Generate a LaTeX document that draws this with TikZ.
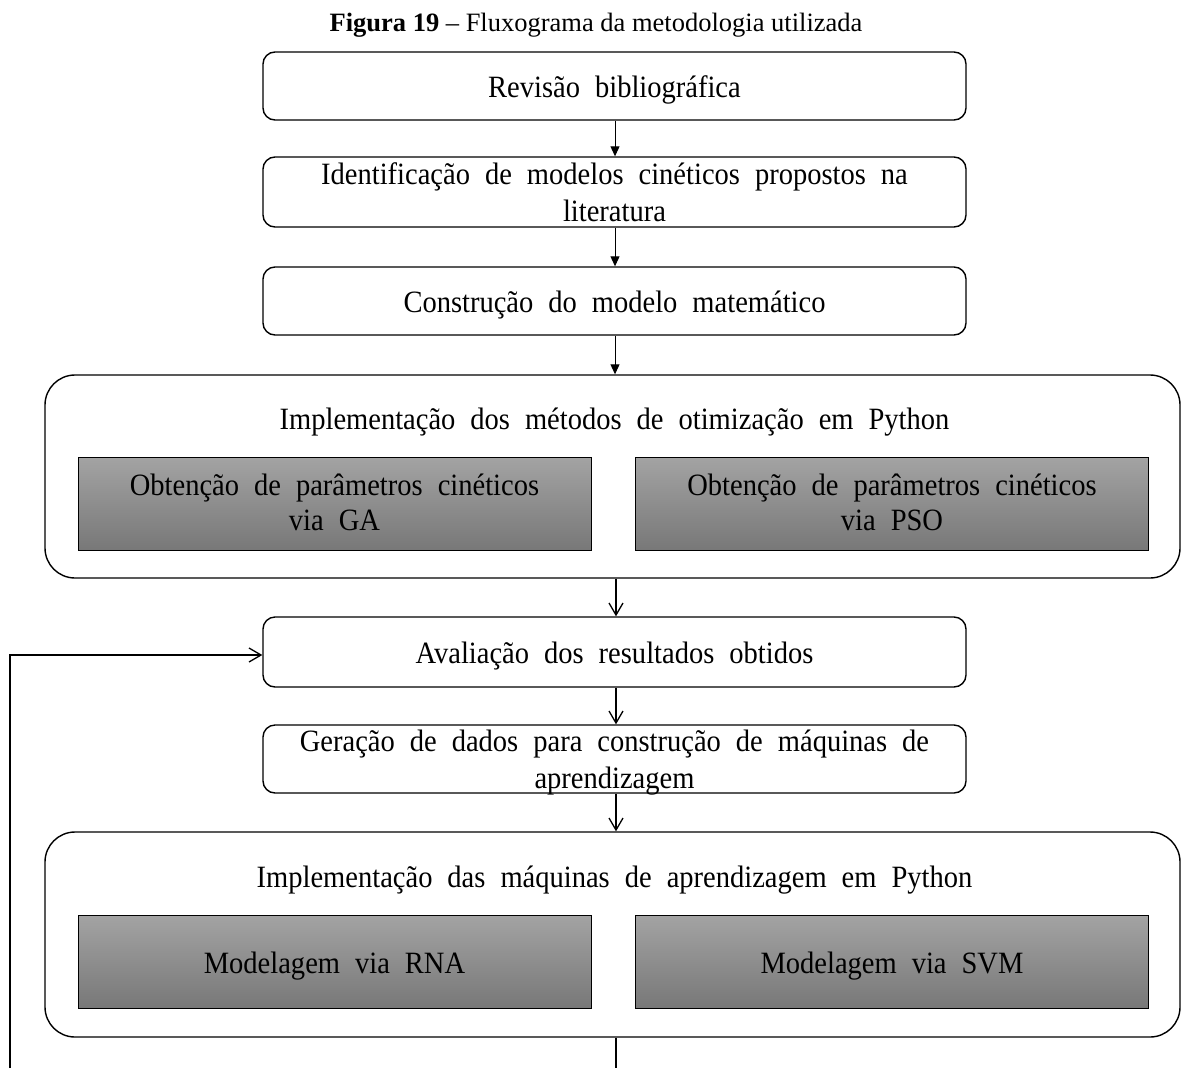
\documentclass[tikz,border=0pt]{standalone}
\usepackage{fontspec}
\setmainfont{Liberation Serif}
\newfontfamily\stretchedserif[FakeStretch=0.92]{Liberation Serif}
\newcommand\myboxfont{\stretchedserif\fontsize{31}{37}\selectfont\spaceskip=15pt plus 2pt minus 1pt\relax}
\usetikzlibrary{arrows.meta}
\begin{document}
\begin{tikzpicture}[x=1pt,y=-1pt,
  every node/.style={inner sep=0pt},
  boxfont/.style={font=\myboxfont},
  stepbox2/.style={draw, line width=1.4pt, rounded corners=12pt, minimum width=703pt, minimum height=68pt, align=center, fill=white, boxfont},
  stepbox/.style={stepbox2, text height=23pt, text depth=0pt},
  container/.style={draw, line width=1.4pt, rounded corners=30pt, minimum width=1135pt, minimum height=203pt},
  graybox/.style={draw, line width=1pt, top color=black!36, bottom color=black!53, minimum width=513pt, minimum height=93pt},
  graytext/.style={boxfont, text height=23pt, text depth=0pt},
  boxtext/.style={boxfont, align=center},
  solidconn/.style={line width=1pt, -{Triangle[length=10pt,width=9pt]}},
  conn/.style={line width=1.3pt, -{Straight Barb[length=12pt,width=14pt,line width=1.3pt]}},
  plain/.style={line width=1.3pt}
]
\useasboundingbox (0,0) rectangle (1182,1068);
\node[font=\fontsize{26.5}{30}\selectfont, anchor=base] (title) at (596,31) {\textbf{Figura 19} -- Fluxograma da metodologia utilizada};
\node[stepbox] (b1) at (614.5,86) {Revisão bibliográfica};
\node[stepbox2, minimum height=70pt] (b2) at (614.5,192) {Identificação de modelos cinéticos propostos na\\literatura};
\node[stepbox] (b3) at (614.5,301) {Construção do modelo matemático};
\node[container] (c1) at (612.5,476.5) {};
\node[boxtext, anchor=base] (t1) at (614.5,429) {Implementação dos métodos de otimização em Python};
\node[graybox] (ga) at (334.5,503.5) {};
\node[graybox] (pso) at (892,503.5) {};
\node[boxtext, anchor=base] (gat) at (334.5,495) {Obtenção de parâmetros cinéticos};
\node[boxtext, anchor=base] (gat2) at (334.5,530) {via GA};
\node[boxtext, anchor=base] (psot) at (892,495) {Obtenção de parâmetros cinéticos};
\node[boxtext, anchor=base] (psot2) at (892,530) {via PSO};
\node[stepbox, minimum height=70pt] (b4) at (614.5,652) {Avaliação dos resultados obtidos};
\node[stepbox2] (b5) at (614.5,759) {Geração de dados para construção de máquinas de\\\raisebox{0pt}[\height][0pt]{aprendizagem}};
\node[container, minimum height=205pt] (c2) at (612.5,934.5) {};
\node[boxtext, anchor=base] (t2) at (614.5,887) {Implementação das máquinas de aprendizagem em Python};
\node[graybox, graytext] (rna) at (334.5,961.5) {Modelagem via RNA};
\node[graybox, graytext] (svm) at (892,961.5) {Modelagem via SVM};
\coordinate (cb) at (616,1068);
\coordinate (cl) at (10,1068);
\coordinate (ct) at (10,655);
\draw[solidconn] (b1.south -| 615,0) -- (b2.north -| 615,0);
\draw[solidconn] (b2.south -| 615,0) -- (b3.north -| 615,0);
\draw[solidconn] (b3.south -| 615,0) -- (c1.north -| 615,0);
\draw[conn] (c1.south -| 616,0) -- (b4.north -| 616,0);
\draw[conn] (b4.south -| 616,0) -- (b5.north -| 616,0);
\draw[conn] (b5.south -| 616,0) -- (c2.north -| 616,0);
\draw[plain] (c2.south -| 616,0) -- (cb);
\draw[conn] (cl) -- (ct) -- (b4.west |- ct);
\end{tikzpicture}
\end{document}
